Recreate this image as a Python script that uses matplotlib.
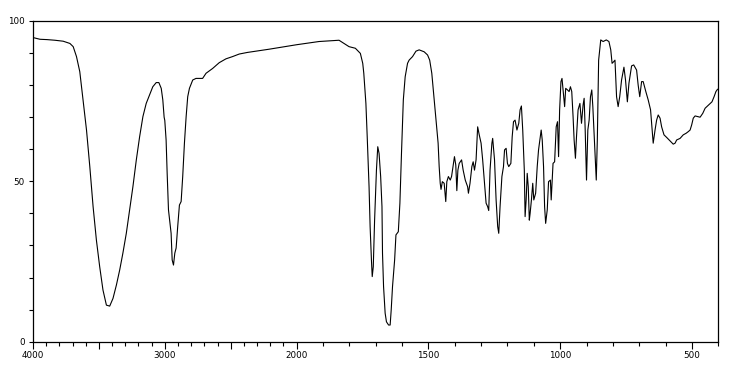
import numpy as np
import matplotlib
matplotlib.use("Agg")
import matplotlib.pyplot as plt
from matplotlib.ticker import FixedLocator, NullFormatter

wavenumber = [
    3996, 3947, 3894, 3834, 3771, 3720, 3695, 3670, 3645, 3620, 3594, 3569, 3544, 3519, 3494,
    3469, 3443, 3418, 3393, 3367, 3342, 3318, 3292, 3267, 3242, 3216, 3191, 3166, 3141, 3116,
    3091, 3065, 3045, 3027, 3015, 3005, 3000, 2990, 2982, 2972, 2965, 2952, 2944, 2934, 2924,
    2914, 2902, 2889, 2876, 2864, 2851, 2838, 2826, 2813, 2788, 2763, 2713, 2687, 2637, 2587,
    2536, 2486, 2435, 2373, 2209, 2000, 1915, 1839, 1801, 1777, 1758, 1749, 1745, 1737, 1732,
    1725, 1721, 1716, 1713, 1709, 1704, 1697, 1692, 1687, 1681, 1676, 1674, 1670, 1664, 1659,
    1651, 1645, 1641, 1636, 1628, 1623, 1614, 1608, 1602, 1595, 1588, 1579, 1573, 1560, 1547,
    1535, 1516, 1503, 1495, 1487, 1478, 1469, 1463, 1459, 1455, 1452, 1447, 1440, 1434, 1430,
    1424, 1417, 1412, 1405, 1401, 1396, 1392, 1388, 1383, 1374, 1368, 1360, 1351, 1348, 1342,
    1335, 1330, 1325, 1319, 1313, 1307, 1300, 1294, 1287, 1281, 1275, 1271, 1266, 1259, 1256,
    1249, 1243, 1237, 1233, 1228, 1221, 1215, 1211, 1205, 1200, 1195, 1187, 1182, 1177, 1171,
    1164, 1157, 1152, 1147, 1142, 1136, 1133, 1129, 1125, 1121, 1117, 1114, 1109, 1104, 1100,
    1093, 1087, 1082, 1077, 1072, 1068, 1063, 1059, 1055, 1049, 1044, 1037, 1034, 1027, 1021,
    1015, 1010, 1006, 1002, 997, 993, 989, 985, 983, 979, 972, 966, 961, 956, 951,
    947, 942, 938, 932, 925, 919, 913, 909, 905, 900, 895, 890, 885, 880, 876,
    869, 863, 859, 854, 846, 837, 825, 815, 808, 803, 797, 792, 786, 780, 774,
    767, 758, 752, 745, 739, 729, 721, 710, 704, 698, 691, 685, 675, 666, 657,
    652, 647, 640, 634, 628, 621, 615, 606, 596, 583, 571, 564, 558, 545, 533,
    522, 514, 507, 501, 495, 488, 479, 469, 459, 450, 437, 424, 416, 409, 403,
]
transmittance = [
    94.8, 94.3, 94.2, 94.0, 93.7, 93.0, 92.0, 88.9, 84.2, 75.4, 66.0, 54.6, 42.1, 31.7, 23.4,
    16.1, 11.4, 11.1, 13.5, 17.7, 22.4, 27.6, 33.8, 41.1, 48.3, 56.7, 63.9, 70.2, 74.3, 76.9,
    79.5, 80.8, 80.8, 79.0, 75.4, 70.0, 69.0, 62.9, 52.5, 41.1, 38.6, 33.8, 25.5, 23.9, 27.6,
    29.2, 35.9, 42.6, 43.7, 51.5, 61.9, 70.2, 76.4, 79.0, 81.6, 82.1, 82.1, 83.7, 85.2, 87.0,
    88.2, 88.9, 89.7, 90.2, 91.2, 92.6, 93.6, 94.0, 92.0, 91.5, 89.9, 86.8, 83.7, 74.3, 63.9,
    48.3, 35.9, 25.5, 20.3, 23.4, 37.9, 53.5, 60.8, 58.7, 51.5, 42.1, 27.6, 17.2, 8.9, 6.2,
    5.2, 5.2, 9.9, 17.2, 25.5, 33.3, 34.3, 43.2, 58.7, 75.4, 82.6, 86.8, 87.8, 88.9, 90.6,
    91.0, 90.4, 89.4, 87.8, 83.7, 75.4, 67.0, 61.9, 54.6, 49.4, 47.5, 49.9, 49.4, 43.7, 49.9,
    51.5, 50.4, 51.5, 55.6, 57.7, 55.1, 47.1, 53.5, 55.6, 56.7, 53.5, 50.4, 48.3, 46.3, 49.4,
    54.6, 56.1, 53.5, 56.7, 67.0, 64.5, 61.9, 56.7, 49.4, 43.2, 42.1, 40.9, 53.5, 61.9, 63.4,
    56.7, 44.2, 35.9, 33.8, 42.1, 51.5, 54.6, 59.8, 60.3, 55.6, 54.6, 55.6, 63.9, 68.6, 69.1,
    66.0, 68.1, 72.3, 73.5, 66.0, 53.5, 39.0, 44.2, 52.5, 48.3, 37.9, 40.0, 44.2, 49.4, 44.2,
    46.3, 54.6, 59.8, 62.9, 66.0, 62.9, 54.6, 42.1, 36.9, 41.1, 49.9, 50.4, 44.2, 55.6, 56.1,
    67.0, 68.6, 57.7, 72.3, 81.1, 82.1, 78.5, 74.8, 73.3, 79.0, 78.5, 78.0, 79.5, 78.0, 70.2,
    62.9, 57.2, 63.9, 72.3, 74.3, 68.1, 73.8, 75.9, 66.0, 50.4, 66.0, 69.1, 76.4, 78.5, 73.3,
    60.8, 50.4, 62.9, 87.8, 94.1, 93.6, 94.1, 93.6, 91.0, 86.8, 87.3, 87.8, 76.4, 73.3, 76.4,
    81.6, 85.6, 81.6, 74.8, 80.6, 86.0, 86.3, 84.7, 80.0, 76.4, 81.1, 81.1, 78.0, 75.4, 72.3,
    67.0, 61.9, 66.0, 69.1, 70.7, 69.7, 67.0, 64.5, 63.7, 62.6, 61.6, 61.9, 62.9, 63.4, 64.5,
    65.0, 65.5, 66.0, 67.6, 69.7, 70.4, 70.2, 70.0, 71.2, 72.8, 73.8, 74.8, 76.4, 78.0, 78.7,
]
x_major_ticks = [4000, 3500, 3000, 2500, 2000, 1500, 1000, 500]
x_tick_labels = ["4000", "", "3000", "", "2000", "1500", "1000", "500"]
y_major_ticks = [0, 50, 100]
y_tick_labels = ["0", "50", "100"]

def fwd(x):
    x = np.asarray(x, dtype=float)
    return np.where(x >= 2000, x, 2 * x - 2000)

def inv(y):
    y = np.asarray(y, dtype=float)
    return np.where(y >= 2000, y, (y + 2000) / 2)

fig = plt.figure(figsize=(7.31, 3.71), dpi=100)
ax = fig.add_axes([33 / 731, 1 - 341.7 / 371, (718.3 - 33) / 731, (341.7 - 21) / 371])
ax.set_xscale("function", functions=(fwd, inv))
ax.plot(wavenumber, transmittance, color="black", lw=0.8)
ax.set_xlim(4000, 400)
ax.set_ylim(0, 100)

ax.xaxis.set_major_locator(FixedLocator(x_major_ticks))
ax.set_xticklabels(x_tick_labels)
ax.xaxis.set_minor_locator(FixedLocator(list(range(4000, 399, -100))))
ax.xaxis.set_minor_formatter(NullFormatter())
ax.yaxis.set_major_locator(FixedLocator(y_major_ticks))
ax.set_yticklabels(y_tick_labels)
ax.yaxis.set_minor_locator(FixedLocator(list(range(0, 101, 10))))

ax.tick_params(axis="both", which="both", direction="out", color="black", width=0.8)
ax.tick_params(axis="x", which="major", length=5, labelsize=6.3, pad=2)
ax.tick_params(axis="x", which="minor", length=3)
ax.tick_params(axis="y", which="major", length=3, labelsize=6.3, pad=3)
ax.tick_params(axis="y", which="minor", length=3)
for s in ax.spines.values():
    s.set_linewidth(0.9)
    s.set_color("black")

fig.savefig("out.png", dpi=100)
